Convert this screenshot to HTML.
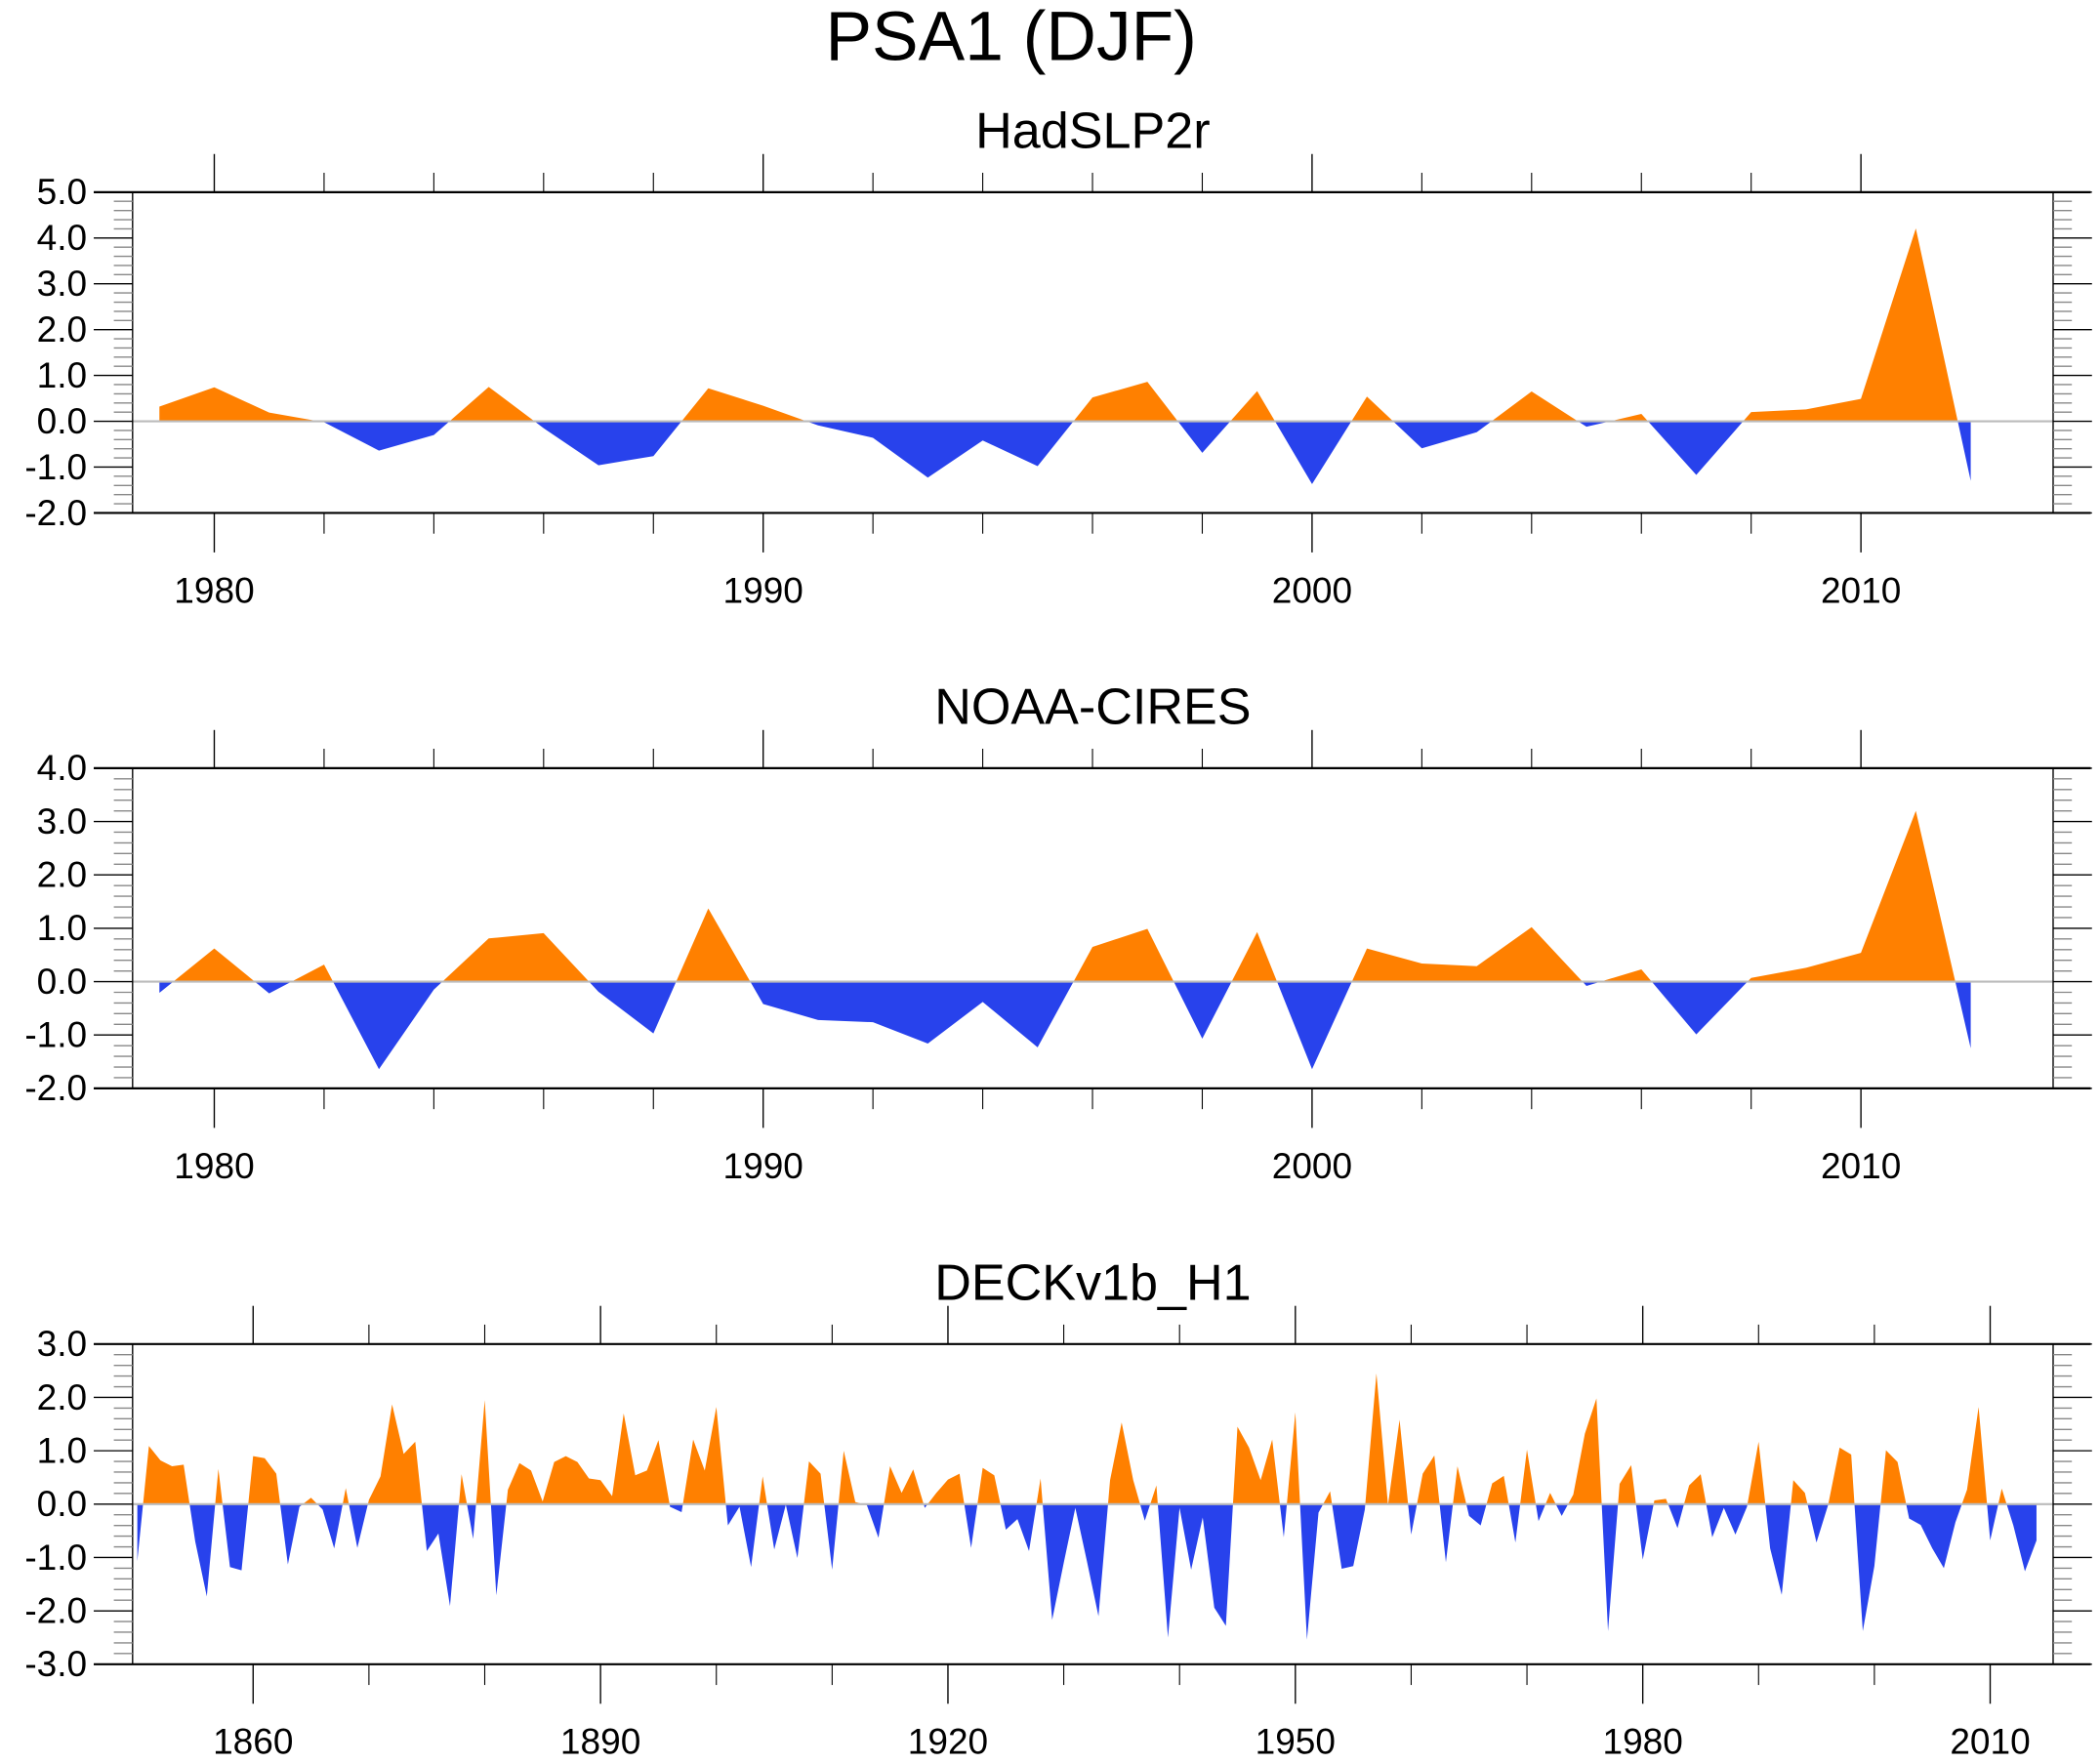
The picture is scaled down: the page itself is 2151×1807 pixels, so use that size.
<!DOCTYPE html>
<html><head><meta charset="utf-8"><style>
html,body{margin:0;padding:0;background:#fff}
svg{display:block}
text{font-family:"Liberation Sans",sans-serif;fill:#000}
</style></head><body>
<svg id="chart" width="2151" height="1807" viewBox="0 0 1568 1317.2" preserveAspectRatio="none" xmlns="http://www.w3.org/2000/svg">
<rect x="0" y="0" width="1568" height="1317.2" fill="#fff"/>
<text x="755" y="45" font-size="52" text-anchor="middle">PSA1 (DJF)</text>
</svg>
<script>
const years1 = [1979,1980,1981,1982,1983,1984,1985,1986,1987,1988,1989,1990,1991,1992,1993,1994,1995,1996,1997,1998,1999,2000,2001,2002,2003,2004,2005,2006,2007,2008,2009,2010,2011,2012];
const hadslp = [0.32,0.74,0.19,-0.02,-0.64,-0.30,0.75,-0.15,-0.96,-0.76,0.72,0.34,-0.09,-0.36,-1.23,-0.42,-0.98,0.52,0.86,-0.69,0.66,-1.37,0.54,-0.59,-0.24,0.65,-0.12,0.16,-1.17,0.20,0.26,0.49,4.21,-1.30];
const noaa = [-0.21,0.62,-0.22,0.32,-1.64,-0.15,0.81,0.91,-0.19,-0.97,1.37,-0.42,-0.72,-0.76,-1.16,-0.38,-1.23,0.65,0.99,-1.07,0.93,-1.64,0.62,0.34,0.29,1.02,-0.08,0.23,-0.99,0.07,0.26,0.54,3.20,-1.25];
const yearStart3 = 1850;
const deck = [-1.07,1.09,0.82,0.71,0.74,-0.70,-1.73,0.66,-1.18,-1.24,
0.90,0.86,0.57,-1.13,-0.05,0.12,-0.10,-0.83,0.30,-0.82,
0.08,0.52,1.87,0.94,1.17,-0.88,-0.55,-1.91,0.56,-0.65,
1.95,-1.71,0.27,0.77,0.63,0.05,0.79,0.90,0.79,0.48,
0.45,0.15,1.70,0.54,0.63,1.20,-0.05,-0.15,1.21,0.63,
1.82,-0.40,-0.05,-1.18,0.52,-0.85,-0.01,-1.01,0.80,0.57,
-1.23,1.00,0.04,-0.02,-0.63,0.71,0.21,0.65,-0.07,0.21,
0.46,0.57,-0.82,0.68,0.54,-0.48,-0.28,-0.88,0.48,-2.17,
-1.10,-0.07,-1.07,-2.10,0.45,1.53,0.45,-0.31,0.35,-2.50,
-0.07,-1.23,-0.25,-1.94,-2.28,1.45,1.06,0.45,1.21,-0.62,
1.72,-2.54,-0.16,0.24,-1.21,-1.16,-0.10,2.45,-0.02,1.58,
-0.57,0.57,0.91,-1.09,0.71,-0.22,-0.40,0.39,0.53,-0.72,
1.02,-0.32,0.21,-0.22,0.18,1.32,1.98,-2.38,0.38,0.73,
-1.04,0.07,0.10,-0.45,0.35,0.56,-0.62,-0.07,-0.57,-0.05,
1.17,-0.83,-1.70,0.45,0.21,-0.72,-0.02,1.06,0.93,-2.38,
-1.16,1.01,0.79,-0.27,-0.39,-0.83,-1.20,-0.34,0.27,1.82,
-0.68,0.29,-0.40,-1.26,-0.68];
const yTicks1 = ["5.0","4.0","3.0","2.0","1.0","0.0","-1.0","-2.0"];
const yTicks2 = ["4.0","3.0","2.0","1.0","0.0","-1.0","-2.0"];
const yTicks3 = ["3.0","2.0","1.0","0.0","-1.0","-2.0","-3.0"];
const xLabels1 = ["1980","1990","2000","2010"];
const xLabels3 = ["1860","1890","1920","1950","1980","2010"];

const NS="http://www.w3.org/2000/svg";
const svg=document.getElementById('chart');
function el(tag,attrs,parent){const e=document.createElementNS(NS,tag);for(const k in attrs)e.setAttribute(k,attrs[k]);(parent||svg).appendChild(e);return e;}
const L=99,R=1533;

function panel(id,title,top,bot,ymin,ymax,x0,x1,px0,px1,years,vals,majStep,minStep,majStart,labels,labStart,labStep){
  const g=el('g',{});
  
  
  const xs=v=>px0+(v-x0)*(px1-px0)/(x1-x0);
  const ys=v=>bot-(v-ymin)*(bot-top)/(ymax-ymin);
  const t=el('text',{x:816,y:top-33,'font-size':38,'text-anchor':'middle'},g);
  t.textContent=title;
  
  
  // clip
  const cid=id+'clip';
  const defs=el('defs',{},g);
  const c1=el('clipPath',{id:cid+'a'},defs);el('rect',{x:0,y:0,width:1568,height:ys(0)},c1);
  const c2=el('clipPath',{id:cid+'b'},defs);el('rect',{x:0,y:ys(0),width:1568,height:1317-ys(0)},c2);
  let d='M'+xs(years[0])+','+ys(0);
  for(let i=0;i<vals.length;i++)d+=' L'+xs(years[i]).toFixed(2)+','+ys(vals[i]).toFixed(2);
  d+=' L'+xs(years[years.length-1])+','+ys(0)+' Z';
  const pa=el('path',{d:d,fill:'#ff8000','clip-path':'url(#'+cid+'a)'},g);
  
  
  const pb=el('path',{d:d,fill:'#2842ec','clip-path':'url(#'+cid+'b)'},g);
  
  
  const zl=el('line',{x1:L,x2:R,y1:ys(0),y2:ys(0),stroke:'#bbb','stroke-width':1.5},g);
  
  
  // frame
  const fr=el('rect',{x:L,y:top,width:R-L,height:bot-top,fill:'none',stroke:'#000','stroke-width':1},g);
  
  
  el('line',{x1:70,x2:1561,y1:top,y2:top,stroke:'#000','stroke-width':1.6},g);
  el('line',{x1:70,x2:1561,y1:bot,y2:bot,stroke:'#000','stroke-width':1.6},g);
  // y ticks
  for(let v=ymin;v<=ymax+1e-6;v+=0.2){
    const y=ys(v);const maj=Math.abs(v-Math.round(v))<1e-6;
    const len=maj?29:14;
    el('line',{x1:L-len,x2:L,y1:y,y2:y,stroke:maj?'#000':'#888','stroke-width':1},g);
    el('line',{x1:R,x2:R+len,y1:y,y2:y,stroke:maj?'#000':'#888','stroke-width':1},g);
  }
  const ticks=ymax-ymin;
  const yl=[yTicks1,yTicks2,yTicks3][['p1','p2','p3'].indexOf(id)];
  for(let i=0;i<=ticks;i++){
    const lab=el('text',{x:65,y:ys(ymax-i)+9,'font-size':27,'text-anchor':'end'},g);
    lab.textContent=yl[i];
    
    
  }
  // x ticks
  for(let yr=Math.ceil(x0/minStep)*minStep;yr<=x1;yr+=minStep){
    if(yr<x0)continue;
    const x=xs(yr);if(x<L||x>R)continue;
    const maj=((yr-majStart)%majStep)===0;
    el('line',{x1:x,x2:x,y1:top-(maj?28.5:14.5),y2:top,stroke:'#000','stroke-width':maj?1:0.8},g);
    el('line',{x1:x,x2:x,y1:bot,y2:bot+(maj?29.5:15.5),stroke:'#000','stroke-width':maj?1:0.8},g);
  }
  labels.forEach((s,i)=>{
    const lab=el('text',{x:xs(labStart+i*labStep),y:bot+67,'font-size':27,'text-anchor':'middle'},g);
    lab.textContent=s;
    
    
  });
}
const yrs3=deck.map((_,i)=>yearStart3+i);
panel('p1','HadSLP2r',143.5,383,-2,5,1980,2010,160,1389.5,years1,hadslp,10,2,1980,xLabels1,1980,10);
panel('p2','NOAA-CIRES',573.6,812.7,-2,4,1980,2010,160,1389.5,years1,noaa,10,2,1980,xLabels1,1980,10);
panel('p3','DECKv1b_H1',1003.6,1242.7,-3,3,1860,2010,189,1486,yrs3,deck,30,10,1860,xLabels3,1860,30);
</script>
</body></html>
